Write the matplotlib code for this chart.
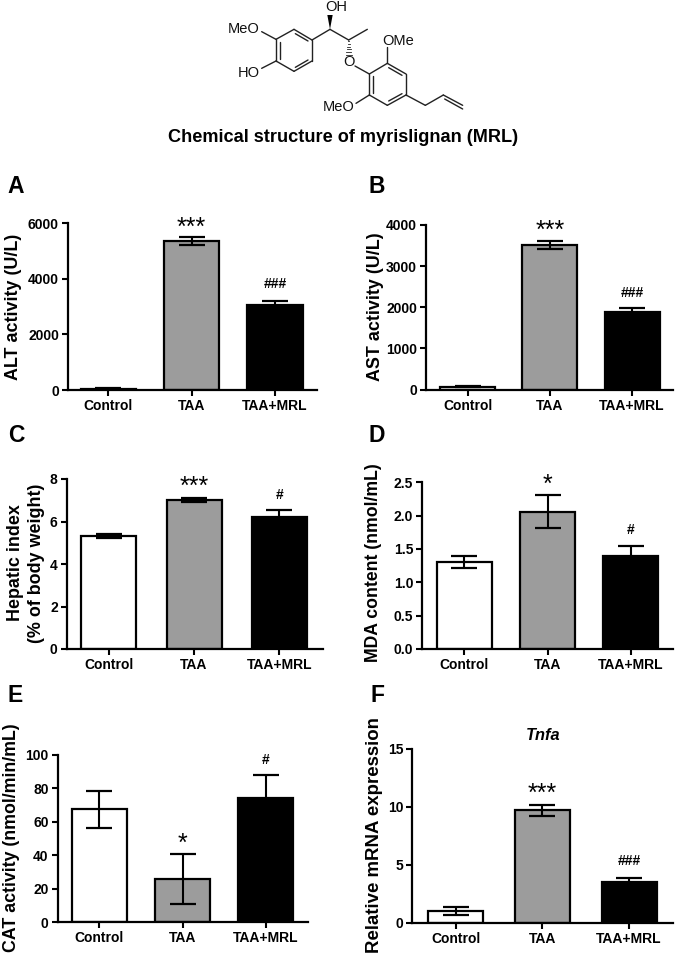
import numpy as np
import matplotlib
matplotlib.use("Agg")
import matplotlib.pyplot as plt

plt.rcParams['font.family'] = ['Liberation Sans', 'DejaVu Sans']

W, H = 679, 956

groups = ["Control", "TAA", "TAA+MRL"]
bar_colors = ["white", "#9c9c9c", "black"]

alt_mean = [50, 5370, 3070]
alt_err = [15, 140, 130]
ast_mean = [70, 3520, 1890]
ast_err = [15, 100, 100]
hep_mean = [5.33, 7.0, 6.2]
hep_err = [0.085, 0.085, 0.33]
mda_mean = [1.30, 2.06, 1.39]
mda_err = [0.09, 0.25, 0.15]
cat_mean = [67.5, 26, 74]
cat_err = [11, 15, 14]
tnf_mean = [1.0, 9.7, 3.5]
tnf_err = [0.33, 0.5, 0.4]

alt_ticks = [0, 2000, 4000, 6000]
ast_ticks = [0, 1000, 2000, 3000, 4000]
hep_ticks = [0, 2, 4, 6, 8]
mda_ticks = [0, 0.5, 1.0, 1.5, 2.0, 2.5]
cat_ticks = [0, 20, 40, 60, 80, 100]
tnf_ticks = [0, 5, 10, 15]

# significance marks: (text, height of the mark centre)
alt_marks = [None, ("***", 6024), ("###", 3840)]
ast_marks = [None, ("***", 3980), ("###", 2361)]
hep_marks = [None, ("***", 7.84), ("#", 7.29)]
mda_marks = [None, ("*", 2.535), ("#", 1.80)]
cat_marks = [None, ("*", 49.5), ("#", 97.4)]
tnf_marks = [None, ("***", 11.5), ("###", 5.41)]

# mean, err, ticks, tick labels, marks, ylabel,
# spine x, axis end x, top y, base y, first bar x, bar step (all pixels), ylabel x, ylabel y, label size
panels = [
    (alt_mean, alt_err, alt_ticks, None, alt_marks, "ALT activity (U/L)",
     68, 317, 223.3, 390, 108, 83.5, 14, 307, 12.9),
    (ast_mean, ast_err, ast_ticks, None, ast_marks, "AST activity (U/L)",
     426, 673, 225, 389.5, 467.7, 82.2, 376, 307, 12.9),
    (hep_mean, hep_err, hep_ticks, None, hep_marks, "Hepatic index\n(% of body weight)",
     66.7, 322.7, 479, 649, 108.7, 85.3, 26, 563, 12.9),
    (mda_mean, mda_err, mda_ticks, ["0.0", "0.5", "1.0", "1.5", "2.0", "2.5"], mda_marks, "MDA content (nmol/mL)",
     422.3, 673, 482.3, 649, 464.3, 83.2, 374, 563, 12.7),
    (cat_mean, cat_err, cat_ticks, None, cat_marks, "CAT activity (nmol/min/mL)",
     57.7, 308, 755, 922, 99.3, 83.3, 12, 838, 12.8),
    (tnf_mean, tnf_err, tnf_ticks, None, tnf_marks, "Relative mRNA expression",
     412.3, 673, 749, 922.7, 455.7, 86.7, 374, 835, 13.4),
]

fig = plt.figure(figsize=(W / 100, H / 100), dpi=100, facecolor="white")

for mean, err, ticks, ticklabels, marks, ylabel, x0, x1, yt, yb, c0, step, lx, ly, lsize in panels:
    ax = fig.add_axes([x0 / W, 1 - yb / H, (x1 - x0) / W, (yb - yt) / H])
    xs = np.arange(3)
    ax.bar(xs, mean, width=55 / step, color=bar_colors, edgecolor="black", linewidth=1.6, zorder=2)
    ax.errorbar(xs, mean, yerr=err, fmt="none", ecolor="black", elinewidth=1.5,
                capsize=9.7, capthick=1.6, zorder=3, clip_on=False)
    ax.set_xlim((x0 - c0) / step, (x1 - c0) / step)
    ax.set_ylim(0, ticks[-1])
    ax.set_xticks(xs)
    ax.set_xticklabels(groups, fontweight="bold", fontsize=10)
    ax.set_yticks(ticks)
    if ticklabels:
        ax.set_yticklabels(ticklabels)
    for t in ax.get_yticklabels():
        t.set_fontweight("bold")
        t.set_fontsize(10)
    ax.tick_params(axis="both", length=4, width=1.5, pad=2.5)
    for s in ["top", "right"]:
        ax.spines[s].set_visible(False)
    for s in ["left", "bottom"]:
        ax.spines[s].set_linewidth(1.6)
    ax.set_ylabel(ylabel, fontweight="bold", fontsize=lsize, linespacing=1.3, va="center")
    ax.yaxis.set_label_coords((lx - x0) / (x1 - x0), (yb - ly) / (yb - yt))

    for i, m in enumerate(marks):
        if m is None:
            continue
        txt, y = m
        if "*" in txt:
            # asterisk sits high in the glyph box
            ax.annotate(txt, (i, y), xytext=(0, -8.5), textcoords="offset points",
                        ha="center", va="baseline", fontsize=18, annotation_clip=False)
        else:
            ax.annotate(txt, (i, y), xytext=(0, -3.5), textcoords="offset points",
                        ha="center", va="baseline", fontsize=10, fontweight="bold", annotation_clip=False)

# overlay in pixel coordinates for the letters, title and structure
ov = fig.add_axes([0, 0, 1, 1], zorder=5)
ov.set_xlim(0, W)
ov.set_ylim(H, 0)
ov.axis("off")

letters = ["A", "B", "C", "D", "E", "F"]
letter_x = [16, 377, 16, 377, 15, 377]
letter_y = [186, 186, 435, 435, 695, 695]
for s, x, y in zip(letters, letter_x, letter_y):
    ov.text(x, y, s, fontsize=16.5, fontweight="bold", ha="center", va="center")

ov.text(343.5, 137.5, "Chemical structure of myrislignan (MRL)", fontsize=13.1,
        fontweight="bold", ha="center", va="center")
ov.text(543, 735, "Tnfa", fontsize=11.8, fontweight="bold", style="italic", ha="center", va="center")


# chemical structure
def mx(x):
    return 150 + np.asarray(x, dtype=float) / 3


def my(y):
    return np.asarray(y, dtype=float) / 3


bonds = [
    ((378, 118), (432, 88)), ((432, 88), (486, 120)), ((486, 120), (486, 183)),
    ((486, 183), (432, 214)), ((432, 214), (378, 183)), ((378, 183), (378, 118)),
    ((389, 125), (389, 176)), ((436, 101), (474, 123)), ((474, 180), (436, 202)),
    ((486, 120), (540, 88)), ((540, 88), (596, 120)), ((596, 120), (652, 88)),
    ((378, 118), (335, 95)), ((378, 183), (335, 205)),
    ((615, 198), (658, 222)),
    ((658, 222), (712, 190)), ((712, 190), (768, 222)), ((768, 222), (768, 285)),
    ((768, 285), (712, 316)), ((712, 316), (658, 285)), ((658, 285), (658, 222)),
    ((669, 229), (669, 278)), ((716, 203), (756, 226)), ((756, 281), (716, 303)),
    ((712, 190), (712, 140)), ((658, 285), (618, 310)),
    ((768, 285), (826, 316)), ((826, 316), (880, 285)), ((880, 285), (938, 316)),
    ((884, 297), (938, 327)),
]
for a, b in bonds:
    ov.plot(mx([a[0], b[0]]), my([a[1], b[1]]), color="#222222", lw=1.0, solid_capstyle="round")

# wedge up to OH
ov.fill(mx([540, 532, 548]), my([88, 45, 45]), color="black", lw=0)
# hashed bond down to O
for t in np.linspace(0.08, 1, 6):
    yy = 120 + t * 45
    hw = 1 + t * 8
    ov.plot(mx([596 - hw, 596 + hw]), my([yy, yy]), color="#222222", lw=0.6)

atom_text = ["OH", "MeO", "HO", "O", "OMe", "MeO"]
atom_x = [558, 281, 297, 598, 743, 566]
atom_y = [22, 88, 220, 185, 122, 320]
for s, x, y in zip(atom_text, atom_x, atom_y):
    ov.text(mx(x), my(y), s, fontsize=10.5, color="#111111", ha="center", va="center")

fig.savefig("out.png", dpi=100)
